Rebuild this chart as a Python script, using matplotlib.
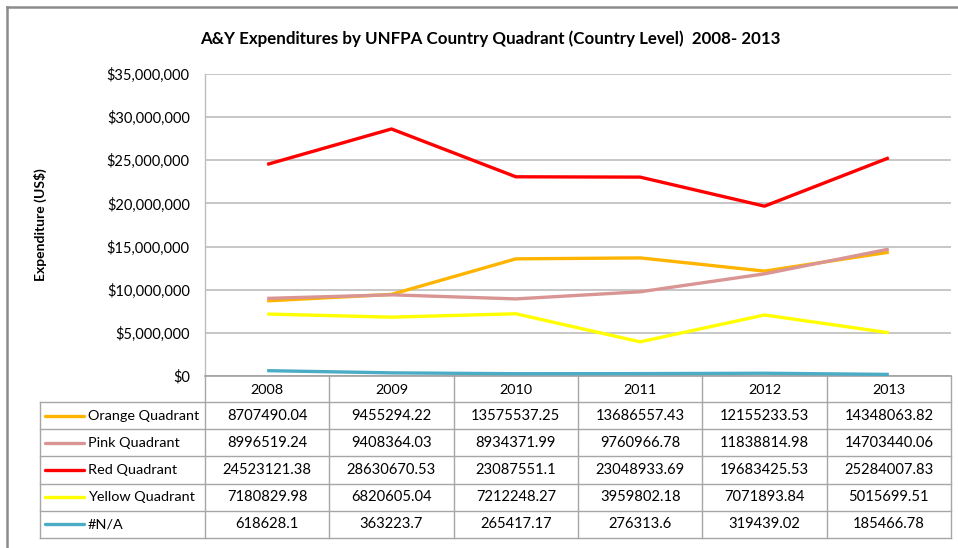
import numpy as np
import matplotlib
matplotlib.use("Agg")
import matplotlib.pyplot as plt
from matplotlib.ticker import FuncFormatter

plt.rcParams['font.family'] = ['Lato', 'DejaVu Sans']

years = ['2008', '2009', '2010', '2011', '2012', '2013']
series_names = ['Orange Quadrant', 'Pink Quadrant', 'Red Quadrant', 'Yellow Quadrant', '#N/A']
orange = [8707490.04, 9455294.22, 13575537.25, 13686557.43, 12155233.53, 14348063.82]
pink = [8996519.24, 9408364.03, 8934371.99, 9760966.78, 11838814.98, 14703440.06]
red = [24523121.38, 28630670.53, 23087551.1, 23048933.69, 19683425.53, 25284007.83]
yellow = [7180829.98, 6820605.04, 7212248.27, 3959802.18, 7071893.84, 5015699.51]
na = [618628.1, 363223.7, 265417.17, 276313.6, 319439.02, 185466.78]
# labels as shown in the table
orange_txt = ['8707490.04', '9455294.22', '13575537.25', '13686557.43', '12155233.53', '14348063.82']
pink_txt = ['8996519.24', '9408364.03', '8934371.99', '9760966.78', '11838814.98', '14703440.06']
red_txt = ['24523121.38', '28630670.53', '23087551.1', '23048933.69', '19683425.53', '25284007.83']
yellow_txt = ['7180829.98', '6820605.04', '7212248.27', '3959802.18', '7071893.84', '5015699.51']
na_txt = ['618628.1', '363223.7', '265417.17', '276313.6', '319439.02', '185466.78']

values = [orange, pink, red, yellow, na]
texts = [orange_txt, pink_txt, red_txt, yellow_txt, na_txt]
colors = ['#FFB400', '#D99594', '#FF0000', '#FFFF00', '#4BACC6']

W, H = 958, 548
fig = plt.figure(figsize=(W / 100, H / 100), dpi=100)

# pixel layout
px_l, px_r, px_t, px_b = 205, 951, 74, 376
ax = fig.add_axes([px_l / W, 1 - px_b / H, (px_r - px_l) / W, (px_b - px_t) / H])

x = np.arange(len(years))
for vals, c in zip(values, colors):
    ax.plot(x, vals, color=c, lw=2.4, solid_capstyle='butt', zorder=3)

ax.set_xlim(-0.5, len(years) - 0.5)
ax.set_ylim(0, 35000000)
ax.set_yticks(np.arange(0, 35000001, 5000000))
ax.yaxis.set_major_formatter(FuncFormatter(lambda v, p: '${:,.0f}'.format(v)))
ax.set_xticks([])
ax.tick_params(axis='y', length=0, labelsize=10.5, pad=11, colors='#000000')
ax.grid(axis='y', color='#BDBDBD', lw=1.2)
ax.set_axisbelow(True)
for s in ['top', 'right']:
    ax.spines[s].set_visible(False)
ax.spines['left'].set_color('#BDBDBD')
ax.spines['bottom'].set_color('#A0A0A0')
ax.spines['left'].set_linewidth(1.0)
ax.spines['bottom'].set_linewidth(1.2)

# overlay in pixel coordinates for frame, title and data table
ov = fig.add_axes([0, 0, 1, 1], zorder=-1)
ov.set_xlim(0, W)
ov.set_ylim(H, 0)
ov.axis('off')

ov.plot([7, 7], [7, H], color='#8C8C8C', lw=1.8)
ov.plot([7, W], [7, 7], color='#8C8C8C', lw=1.8)

fig.text(490 / W, 1 - 39 / H, 'A&Y Expenditures by UNFPA Country Quadrant (Country Level)  2008- 2013',
         ha='center', va='center', fontsize=12.2, fontweight='bold')
fig.text(40 / W, 1 - 225 / H, 'Expenditure (US$)', rotation=90, ha='center', va='center',
         fontsize=10, fontweight='bold')

# table
tab_l = 40
col_w = (px_r - px_l) / len(years)
hdr_b = 402
row_h = (538 - hdr_b) / len(series_names)
gc = '#A6A6A6'
glw = 1.0
# header
for i in range(len(years) + 1):
    xx = px_l + i * col_w
    ov.plot([xx, xx], [px_b, 538], color=gc, lw=glw)
for i, yr in enumerate(years):
    ov.text(px_l + (i + 0.5) * col_w, (px_b + hdr_b) / 2 + 1, yr, ha='center', va='center', fontsize=10.4)
ov.plot([tab_l, tab_l], [hdr_b, 538], color=gc, lw=glw)
for r in range(len(series_names) + 1):
    yy = hdr_b + r * row_h
    ov.plot([tab_l, px_r], [yy, yy], color=gc, lw=glw)
for r, (name, c, txt) in enumerate(zip(series_names, colors, texts)):
    yc = hdr_b + (r + 0.5) * row_h
    ov.plot([45, 84], [yc, yc], color=c, lw=2.4, solid_capstyle='round')
    ov.text(88, yc, name, ha='left', va='center', fontsize=10.4)
    for i, t in enumerate(txt):
        ov.text(px_l + (i + 0.5) * col_w, yc, t, ha='center', va='center', fontsize=10.6)

fig.savefig('out.png', dpi=100, facecolor='white')
